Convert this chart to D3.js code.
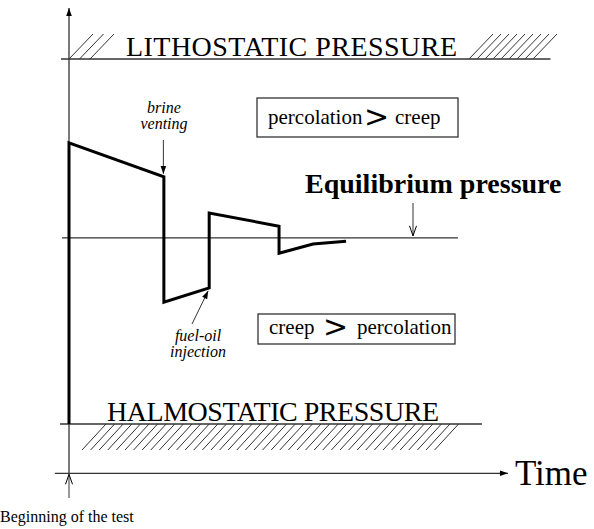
<!DOCTYPE html>
<html>
<head>
<meta charset="utf-8">
<script src="https://cdn.jsdelivr.net/npm/d3@7"></script>
<style>
  body { margin: 0; background: #fff; }
</style>
</head>
<body>
<div id="chart"></div>
<script>
// pressure levels (0 = halmostatic, 100 = lithostatic, arbitrary units)
const levels = [
  {name: "LITHOSTATIC PRESSURE", p: 100, t0: -1.7, t1: 102},
  {name: "equilibrium", p: 51, t0: -1.5, t1: 82.4},
  {name: "HALMOSTATIC PRESSURE", p: 0, t0: -1.9, t1: 87.5}
];
const timeAxisLevel = -13.5;
const timeAxisEnd = 93;
const axisTop = 114;

// cavern pressure history during the test
const traceTime = [0, 0, 20.1, 20.1, 29.7, 29.7, 44.5, 44.5, 51.7, 58.7];
const tracePressure = [0, 77, 67.7, 33.4, 37.3, 57.8, 54.2, 46.8, 49.3, 50.1];

const trace = traceTime.map((t, i) => ({t: t, p: tracePressure[i]}));

const width = 594, height = 529;
const serif = '"Liberation Serif", "Times New Roman", "DejaVu Serif", serif';

const svg = d3.select("#chart")
  .append("svg")
  .attr("width", width)
  .attr("height", height);

const xScale = d3.scaleLinear().domain([0, 100]).range([69, 541]);
const yScale = d3.scaleLinear().domain([0, 100]).range([424, 59]);

const defs = svg.append("defs");
defs.append("marker")
  .attr("id", "head")
  .attr("viewBox", "0 0 10 10")
  .attr("refX", 10).attr("refY", 5)
  .attr("markerWidth", 10).attr("markerHeight", 8)
  .attr("markerUnits", "userSpaceOnUse")
  .attr("orient", "auto")
  .append("path")
  .attr("d", "M0,1.5 L10,5 L0,8.5 Z")
  .attr("fill", "#000");
defs.append("marker")
  .attr("id", "open")
  .attr("viewBox", "0 0 10 10")
  .attr("refX", 10).attr("refY", 5)
  .attr("markerWidth", 12).attr("markerHeight", 10)
  .attr("markerUnits", "userSpaceOnUse")
  .attr("orient", "auto")
  .append("path")
  .attr("d", "M0,1.5 L10,5 L0,8.5")
  .attr("fill", "none")
  .attr("stroke", "#000")
  .attr("stroke-width", 1);

const thin = "#333";

function label(x, y, size, s) {
  return svg.append("text")
    .attr("x", x).attr("y", y)
    .style("font-family", serif)
    .style("font-size", size + "px")
    .style("fill", "#000")
    .text(s);
}

// axes
svg.append("line")
  .attr("x1", xScale(0)).attr("x2", xScale(0))
  .attr("y1", yScale(timeAxisLevel)).attr("y2", yScale(axisTop))
  .attr("stroke", thin).attr("stroke-width", 1.3)
  .attr("marker-end", "url(#head)");

svg.append("line")
  .attr("x1", xScale(-3)).attr("x2", xScale(timeAxisEnd))
  .attr("y1", yScale(timeAxisLevel)).attr("y2", yScale(timeAxisLevel))
  .attr("stroke", thin).attr("stroke-width", 1.3)
  .attr("marker-end", "url(#head)");

label(xScale(timeAxisEnd) + 7, 485, 35, "Time");

// beginning of the test arrow
svg.append("line")
  .attr("x1", xScale(0)).attr("x2", xScale(0))
  .attr("y1", 498).attr("y2", yScale(timeAxisLevel) + 1)
  .attr("stroke", thin).attr("stroke-width", 1)
  .attr("marker-end", "url(#open)");
label(0, 522, 16, "Beginning of the test");

// pressure levels
svg.selectAll("line.level")
  .data(levels)
  .enter()
  .append("line")
  .attr("class", "level")
  .attr("x1", d => xScale(d.t0)).attr("x2", d => xScale(d.t1))
  .attr("y1", d => yScale(d.p)).attr("y2", d => yScale(d.p))
  .attr("stroke", thin).attr("stroke-width", 1.4);

// hatching
function hatch(xs, y, dx, dy) {
  svg.append("g").selectAll("line")
    .data(xs)
    .enter()
    .append("line")
    .attr("x1", d => d).attr("y1", y)
    .attr("x2", d => d + dx).attr("y2", y + dy)
    .attr("stroke", thin).attr("stroke-width", 1);
}
const yL = yScale(levels[0].p), yH = yScale(levels[2].p);
hatch(d3.range(3).map(i => xScale(0) + i * 10.5), yL, 24, -25);
hatch(d3.range(9).map(i => 469 + i * 8), yL, 24, -25);
hatch(d3.range(42).map(i => 106 + i * 8.6), yH, -24, 26);

label(126, 56, 28, levels[0].name).attr("textLength", 331);
label(107, 421, 28, levels[2].name).attr("textLength", 332);

// trace
svg.append("path")
  .datum(trace)
  .attr("d", d3.line().x(d => xScale(d.t)).y(d => yScale(d.p)))
  .attr("fill", "none")
  .attr("stroke", "#000")
  .attr("stroke-width", 3)
  .attr("stroke-linejoin", "miter");

// equilibrium label
label(305, 193, 28, "Equilibrium pressure").style("font-weight", "bold");
svg.append("line")
  .attr("x1", 413).attr("x2", 413)
  .attr("y1", 203).attr("y2", yScale(levels[1].p) - 2)
  .attr("stroke", thin).attr("stroke-width", 1)
  .attr("marker-end", "url(#open)");

// two-line italic notes, one text per line
function note(cx, y, lines) {
  lines.forEach((s, i) => {
    label(cx, y + i * 16, 16, s)
      .style("font-style", "italic")
      .attr("text-anchor", "middle");
  });
}
note(164, 113, ["brine", "venting"]);
svg.append("line")
  .attr("x1", xScale(traceTime[2]) - 0.5).attr("x2", xScale(traceTime[2]) - 0.5)
  .attr("y1", 140).attr("y2", yScale(tracePressure[2]) - 3)
  .attr("stroke", thin).attr("stroke-width", 1)
  .attr("marker-end", "url(#head)");

note(198, 341, ["fuel-oil", "injection"]);
svg.append("line")
  .attr("x1", 192).attr("y1", 324)
  .attr("x2", xScale(traceTime[4]) - 1).attr("y2", yScale(tracePressure[4]) + 3)
  .attr("stroke", thin).attr("stroke-width", 1)
  .attr("marker-end", "url(#head)");

// boxes
function box(x, y, w, h, base, parts) {
  svg.append("rect")
    .attr("x", x).attr("y", y).attr("width", w).attr("height", h)
    .attr("fill", "none").attr("stroke", thin).attr("stroke-width", 1.3);
  const t = svg.append("text");
  parts.forEach(p => {
    t.append("tspan")
      .attr("x", p.x).attr("y", base + (p.big ? 3 : 0))
      .style("font-family", p.big ? '"DejaVu Sans", sans-serif' : serif)
      .style("font-size", p.big ? "30px" : "21px")
      .text(p.s);
  });
}
box(257, 98, 201, 39, 124, [
  {x: 268, s: "percolation"}, {x: 364, s: ">", big: true}, {x: 395, s: "creep"}
]);
box(258, 314, 197, 30, 334, [
  {x: 269, s: "creep"}, {x: 323, s: ">", big: true}, {x: 357, s: "percolation"}
]);
</script>
</body>
</html>
